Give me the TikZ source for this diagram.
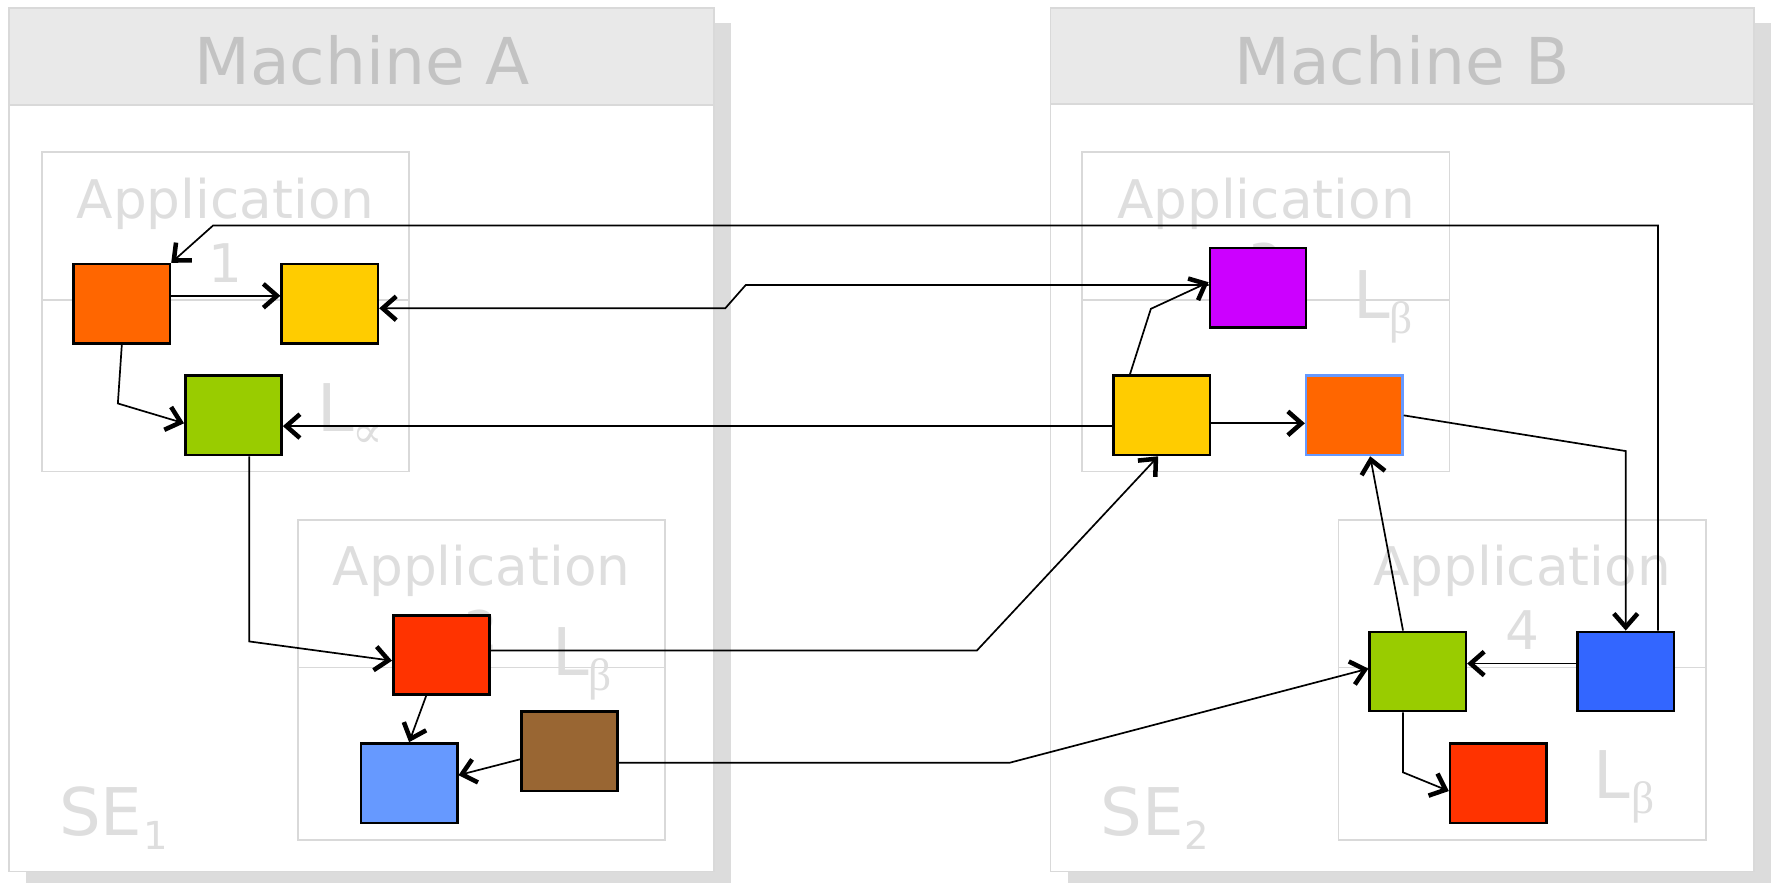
\documentclass[tikz,border=0pt]{standalone}
\usepackage{fontspec}
\setmainfont{DejaVu Sans}
\newfontfamily\grk{Liberation Serif}
\newfontfamily\symserif{DejaVu Serif}
\usetikzlibrary{arrows.meta}

\definecolor{framegray}{HTML}{D9D9D9}
\definecolor{headgray}{HTML}{E9E9E9}
\definecolor{shadowgray}{HTML}{DCDCDC}
\definecolor{titlegray}{HTML}{C3C3C3}
\definecolor{labelgray}{HTML}{DEDEDE}
\definecolor{cOrange}{HTML}{FF6600}
\definecolor{cYellow}{HTML}{FFCC00}
\definecolor{cGreen}{HTML}{99CC00}
\definecolor{cRed}{HTML}{FF3300}
\definecolor{cLightBlue}{HTML}{6699FF}
\definecolor{cBlue}{HTML}{3366FF}
\definecolor{cBrown}{HTML}{996633}
\definecolor{cPurple}{HTML}{CC00FF}

\begin{document}
\begin{tikzpicture}[x=1pt,y=-1pt,
  mshadow/.style={fill=shadowgray,draw=none},
  mframe/.style={draw=framegray,line width=1.6pt,fill=white},
  mhead/.style={draw=framegray,line width=1.6pt,fill=headgray},
  mtitle/.style={text=titlegray,font=\fontsize{57}{68}\selectfont,anchor=base,inner sep=0},
  appbox/.style={draw=framegray,line width=1.6pt},
  apptext/.style={text=labelgray,font=\fontsize{47}{56}\selectfont,anchor=base,inner sep=0},
  biglbl/.style={text=labelgray,font=\fontsize{58}{68}\selectfont,anchor=base west,inner sep=0},
  sublbl/.style={text=labelgray,font=\fontsize{40}{46}\selectfont,anchor=base west,inner sep=0},
  selbl/.style={text=labelgray,font=\fontsize{34}{40}\selectfont,anchor=base west,inner sep=0},
  comp/.style={draw=black,line width=2.2pt,minimum width=85pt,minimum height=70pt,inner sep=0},
  conn/.style={draw=black,line width=1.5pt,
    -{Straight Barb[length=12pt,width=21pt,line width=4pt]}}
]
\useasboundingbox (0,0) rectangle (1568,779);

% ---------- Machine A ----------
\fill[mshadow] (23,20) rectangle (645,779);
\draw[mframe] (8,7) rectangle (630,769);
\draw[mhead] (8,7) rectangle (630,93);
\node[mtitle] (titleA) at (319.5,75) {Machine A};

% Application 1
\draw[appbox] (37,134) rectangle (361,416);
\draw[appbox] (37,265) -- (361,265);
\node[apptext] (app1a) at (199,193) {Application};
\node[apptext] (app1b) at (199,249) {1};
\node[biglbl] (L1) at (280,381) {L};
\node[sublbl] (L1s) at (311,395) {\symserif ∝};

% Application 2
\draw[appbox] (263,459) rectangle (587,741);
\draw[appbox] (263,589) -- (587,589);
\node[apptext] (app2a) at (425,517) {Application};
\node[apptext] (app2b) at (425,573) {2};
\node[biglbl] (L2) at (487,596) {L};
\node[sublbl] (L2s) at (519,609) {\grk β};

\node[biglbl] (SE1) at (52,737) {SE};
\node[selbl] (SE1s) at (126,750) {1};

% ---------- Machine B ----------
\fill[mshadow] (942,20) rectangle (1563,779);
\draw[mframe] (927,7) rectangle (1548,769);
\draw[mhead] (927,7) rectangle (1548,92);
\node[mtitle] (titleB) at (1237,75) {Machine B};

% Application 3
\draw[appbox] (955,134) rectangle (1279,416);
\draw[appbox] (955,265) -- (1279,265);
\node[apptext] (app3a) at (1117,193) {Application};
\node[apptext] (app3b) at (1117,249) {3};
\node[biglbl] (L3) at (1194,281) {L};
\node[sublbl] (L3s) at (1226,294) {\grk β};

% Application 4
\draw[appbox] (1181,459) rectangle (1505,741);
\draw[appbox] (1181,589) -- (1505,589);
\node[apptext] (app4a) at (1343,517) {Application};
\node[apptext] (app4b) at (1343,573) {4};
\node[biglbl] (L4) at (1406,705) {L};
\node[sublbl] (L4s) at (1439,718) {\grk β};

\node[biglbl] (SE2) at (971,737) {SE};
\node[selbl] (SE2s) at (1045,750) {2};

% ---------- Components ----------
\node[comp,fill=cOrange] (oA) at (107.5,268) {};
\node[comp,fill=cYellow] (yA) at (291,268) {};
\node[comp,fill=cGreen] (gA) at (206,366.5) {};
\node[comp,fill=cRed] (rA) at (389.5,578) {};
\node[comp,fill=cLightBlue] (bA) at (361,691) {};
\node[comp,fill=cBrown] (brA) at (502.5,663) {};

\node[comp,fill=cPurple] (pB) at (1110,254) {};
\node[comp,fill=cYellow] (yB) at (1025,366.5) {};
\node[comp,fill=cOrange,draw=cLightBlue] (oB) at (1195,366.5) {};
\node[comp,fill=cGreen] (gB) at (1251,592.5) {};
\node[comp,fill=cBlue] (blB) at (1434.5,592.5) {};
\node[comp,fill=cRed] (rB) at (1322,691) {};

% ---------- Connectors ----------
\draw[conn] ([yshift=7pt]oA.east) -- ([yshift=7pt]yA.west);
\draw[conn] (oA.south) -- (104,356) -- ([yshift=-7pt]gA.west);
\draw[conn] ([xshift=28.5pt]blB.north) -- (1463,199) -- (188,199) -- (oA.north east);
\draw[conn] ([yshift=-9.5pt]yB.west) -- ([yshift=-9.5pt]gA.east);
\draw[conn] ([yshift=2.5pt]pB.west) -- (658,251.5) -- (640,272) -- ([yshift=-4pt]yA.east);
\draw[conn] ([yshift=-7pt]yB.east) -- ([yshift=-7pt]oB.west);
\draw[conn] ([xshift=-28pt]yB.north) -- (1015.5,272.5) -- ([yshift=5pt]pB.west);
\draw[conn] (oB.east) -- (1434.5,398) -- (blB.north);
\draw[conn] ([xshift=-13pt]gB.north) -- ([xshift=14pt]oB.south);
\draw[conn] ([yshift=7pt]blB.west) -- ([yshift=7pt]gB.east);
\draw[conn] ([xshift=-13pt]gB.south) -- (1238,681.5) -- ([yshift=-7pt]rB.west);
\draw[conn] ([yshift=-10pt]brA.east) -- (891,673) -- ([yshift=2.5pt]gB.west);
\draw[conn] ([yshift=4pt]rA.east) -- (862,574) -- ([xshift=-3pt]yB.south);
\draw[conn] ([xshift=14pt]gA.south) -- (220,566) -- ([yshift=-5pt]rA.west);
\draw[conn] ([xshift=-13.5pt]rA.south) -- (bA.north);
\draw[conn] ([yshift=-7pt]brA.west) -- ([yshift=7pt]bA.east);
\end{tikzpicture}
\end{document}
